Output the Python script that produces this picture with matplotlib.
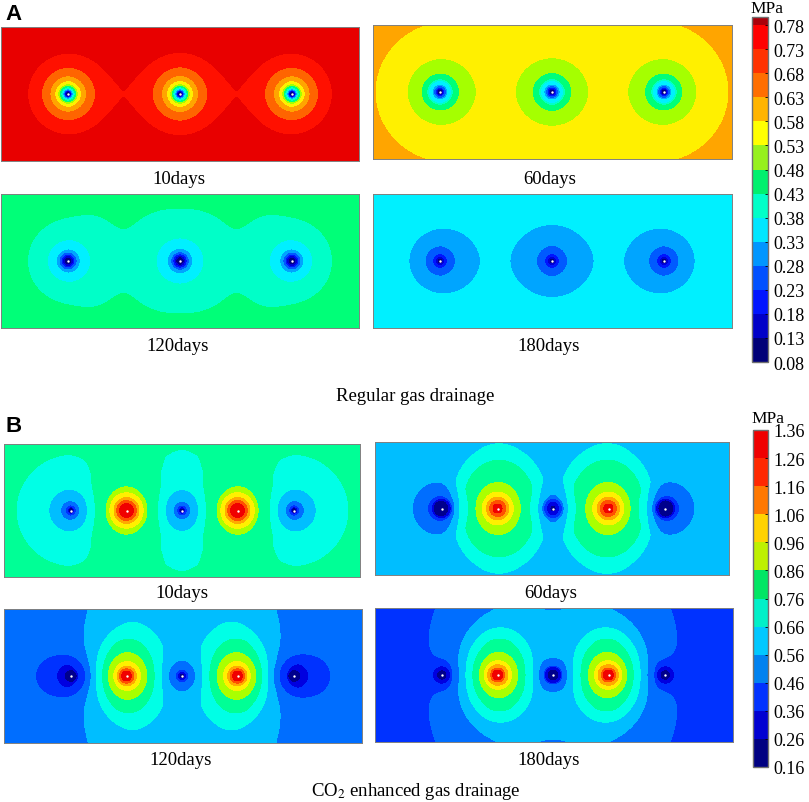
#Pressure contour panels for regular and CO2 enhanced gas drainage
import numpy as np
import matplotlib
matplotlib.use('Agg')
import matplotlib.pyplot as plt
from matplotlib.cm import ScalarMappable
from matplotlib.colors import BoundaryNorm, ListedColormap

plt.rcParams['font.family'] = ['Liberation Serif', 'DejaVu Serif']

days = ['10days', '60days', '120days', '180days']
group_a = 'Regular gas drainage'
group_b = 'CO$_{2}$ enhanced gas drainage'

#band limits of the two colour bars, MPa
levels_a = [0.08, 0.13, 0.18, 0.23, 0.28, 0.33, 0.38, 0.43, 0.48, 0.53, 0.58, 0.63, 0.68, 0.73, 0.78, 0.797]
levels_b = [0.16, 0.26, 0.36, 0.46, 0.56, 0.66, 0.76, 0.86, 0.96, 1.06, 1.16, 1.26, 1.36]

colors_a = ['#000082', '#0000d2', '#0014ff', '#005aff', '#00a5ff', '#00f0ff', '#00ffc8', '#00ff78',
            '#a5ff00', '#fff000', '#ffa500', '#ff6400', '#ff1000', '#e80000', '#aa000a']
bar_a = ['#000078', '#0000c8', '#0014ff', '#0050ff', '#0096ff', '#00e6ff', '#00ffc8', '#00f06e',
         '#96f01e', '#ffff00', '#ffb400', '#ff6e00', '#ff3200', '#ff0000', '#aa000a']
colors_b = ['#00008c', '#0000e0', '#0032ff', '#006eff', '#00beff', '#00ffe6', '#00ff96', '#aaff00',
            '#fff000', '#ffaa00', '#ff5000', '#f00000']
bar_b = ['#000082', '#0000d2', '#0032ff', '#0082f0', '#00c8ff', '#00f0c8', '#00e664', '#bef000',
         '#ffd200', '#ff7800', '#ff2800', '#f00000']

#well positions along each panel
wells_a = [67, 179, 291]
sinks_b = [67, 178, 290]
sources_b = [122.5, 233.5]

#far field pressure and the radial profile read round one well (radius, pressure drop or rise)
far_a = [0.76, 0.593, 0.47, 0.345]
r_a10 = [300, 120, 95, 70, 56, 42, 26, 17.7, 13, 10, 8.5, 7, 6, 5, 4.3, 3.7, 3.2, 2.6, 2]
d_a10 = [0, 0.002, 0.004, 0.009, 0.0143, 0.023, 0.08, 0.13, 0.18, 0.23, 0.28, 0.33, 0.38, 0.43, 0.48, 0.53, 0.58, 0.63, 0.68]
r_a60 = [300, 170, 130, 112, 87, 70, 67, 59, 34, 19.5, 13, 12, 8, 6.5, 5, 4, 2.5]
d_a60 = [0, 0.001, 0.002, 0.003, 0.0068, 0.0108, 0.0115, 0.0135, 0.058, 0.106, 0.155, 0.205, 0.255, 0.305, 0.355, 0.405, 0.475]
r_a120 = [300, 220, 170, 121, 95, 75, 63.5, 54, 43, 39, 21.7, 12, 9, 7, 5.5, 4, 2.5]
d_a120 = [0, 0, 0.002, 0.005, 0.01, 0.014, 0.0192, 0.03, 0.035, 0.038, 0.082, 0.132, 0.182, 0.232, 0.282, 0.332, 0.382]
r_a180 = [300, 182, 142, 117, 70, 42, 33, 30, 15, 7, 4.5, 3, 2]
d_a180 = [0, 0.0005, 0.001, 0.002, 0.005, 0.009, 0.0125, 0.014, 0.063, 0.115, 0.165, 0.215, 0.265]

far_b = [0.80, 0.62, 0.52, 0.40]
stretch_b = [1.12, 1.3, 1.3, 1.3]
sink_weights = [[1, 1, 1], [1.1, 0.9, 1.1], [1.25, 1, 1.25], [1, 1.7, 1]]
r_b10 = [300, 200, 120, 90, 67, 52, 34, 24, 16, 8, 5, 3.5, 2.5, 1.5]
d_b10 = [0, 0, 0.006, 0.012, 0.03, 0.04, 0.07, 0.125, 0.19, 0.27, 0.37, 0.47, 0.57, 0.64]
rs_b10 = [300, 110, 76, 60, 45, 31, 21, 16.3, 11, 9, 5, 2]
h_b10 = [0, 0, 0.002, 0.008, 0.03, 0.1, 0.135, 0.26, 0.38, 0.49, 0.6, 0.7]
r_b60 = [300, 112, 66, 31, 24, 14, 12, 10, 9, 6.5, 5, 3, 1.5]
d_b60 = [0, 0.01, 0.045, 0.06, 0.1, 0.17, 0.2, 0.29, 0.36, 0.42, 0.46, 0.52, 0.56]
rs_b60 = [300, 150, 110, 87, 70, 59, 51.5, 45, 36, 27, 19.7, 13.7, 10, 7, 3.5, 1]
h_b60 = [0, 0.003, 0.01, 0.02, 0.03, 0.045, 0.08, 0.14, 0.23, 0.27, 0.36, 0.465, 0.57, 0.67, 0.77, 0.87]
r_b120 = [300, 200, 116, 88, 69, 35, 23, 18, 13, 7.5, 6.5, 5, 3, 1.5]
d_b120 = [0, 0.005, 0.02, 0.03, 0.05, 0.09, 0.125, 0.165, 0.215, 0.25, 0.31, 0.38, 0.5, 0.58]
rs_b120 = [300, 158, 91, 76, 64, 50, 44, 35, 32.5, 24, 16.7, 11, 8.5, 6, 4, 1]
h_b120 = [0, 0.01, 0.06, 0.09, 0.115, 0.165, 0.19, 0.24, 0.28, 0.385, 0.5, 0.6, 0.7, 0.8, 0.9, 1.0]
r_b180 = [300, 200, 116, 70, 35, 23, 18, 13.7, 10, 9, 6, 3, 1.5]
d_b180 = [0, 0.005, 0.015, 0.03, 0.05, 0.07, 0.09, 0.12, 0.14, 0.22, 0.27, 0.42, 0.55]
rs_b180 = [300, 185, 149, 86, 76, 60, 47, 39, 33, 30.5, 21, 14, 10, 7, 5, 3, 1]
h_b180 = [0, 0.01, 0.015, 0.09, 0.115, 0.17, 0.2, 0.27, 0.33, 0.37, 0.49, 0.6, 0.72, 0.81, 0.91, 1.01, 1.11]

#panel frames in pixels: left, right, top, bottom
boxes_a = [(1, 359, 28, 162), (373, 732, 26, 160), (1, 359, 195, 329), (373, 732, 195, 329)]
boxes_b = [(4, 360, 445, 578), (375, 729, 443, 576), (4, 362, 610, 744), (375, 733, 609, 743)]
W, H = 809, 803


def px_axes(fig, left, right, top, bottom):
    return fig.add_axes([left / W, 1 - bottom / H, (right - left) / W, (bottom - top) / H])


def well_term(r, radii, values):
    #profile lookup in log radius, kinks between the read points rounded off
    grid = np.linspace(np.log(0.3), np.log(500), 800)
    table = np.interp(grid, np.log(radii[::-1]), values[::-1])
    n = int(0.16 / (grid[1] - grid[0])) | 1
    pad = np.pad(table, n // 2, mode='edge')
    table = np.convolve(pad, np.ones(n) / n, mode='valid')
    return np.interp(np.log(np.maximum(r, 0.3)), grid, table)


def draw_panel(fig, box, far, sinks, weights, r_s, d_s, sources, r_h, h, stretch, levels, colors):
    ax = px_axes(fig, *box)
    x = np.arange(0, box[1] - box[0] + 0.25, 0.25)
    y = np.arange(0, 134.25, 0.25)
    xx, yy = np.meshgrid(x, y)
    p = np.full(xx.shape, far, dtype=float)
    for s, w in zip(sinks, weights):
        p -= w * well_term(np.hypot(xx - s, yy - 67), r_s, d_s)
    for s in sources:
        r0 = np.hypot(xx - s, yy - 67)
        #source lobes get taller than wide away from the well
        k = 1 + (stretch - 1) * np.clip((r0 - 10) / 25, 0, 1)
        p += well_term(np.hypot(xx - s, (yy - 67) / k), r_h, h)
    p = np.clip(p, levels[0] + 1e-4, levels[-1] - 1e-4)
    ax.contourf(xx, yy, p, levels=levels, colors=colors)
    ax.scatter(list(sinks) + list(sources), [67] * (len(sinks) + len(sources)), s=3, c='white', linewidths=0, zorder=3)
    ax.set_xticks([])
    ax.set_yticks([])
    for sp in ax.spines.values():
        sp.set_linewidth(0.7)
        sp.set_color('#808080')
    return ax


def draw_bar(fig, box, levels, colors, ticks):
    cax = px_axes(fig, *box)
    sm = ScalarMappable(norm=BoundaryNorm(levels, len(colors)), cmap=ListedColormap(colors))
    cb = fig.colorbar(sm, cax=cax, ticks=ticks, spacing='proportional', format='%.2f')
    cb.ax.tick_params(labelsize=13, length=2, width=0.6, direction='in', pad=4)
    cb.outline.set_linewidth(1)
    cb.outline.set_edgecolor('#707070')
    cb.minorticks_off()


def label(fig, x, y, s, **kw):
    fig.text(x / W, 1 - y / H, s, ha='center', va='center', **kw)


def main():
    fig = plt.figure(figsize=(W / 100, H / 100), dpi=100)

    profiles_a = [(r_a10, d_a10), (r_a60, d_a60), (r_a120, d_a120), (r_a180, d_a180)]
    for i in range(4):
        draw_panel(fig, boxes_a[i], far_a[i], wells_a, [1, 1, 1], profiles_a[i][0], profiles_a[i][1],
                   [], [300, 1], [0, 0], 1, levels_a, colors_a)

    profiles_b = [(r_b10, d_b10, rs_b10, h_b10), (r_b60, d_b60, rs_b60, h_b60),
                  (r_b120, d_b120, rs_b120, h_b120), (r_b180, d_b180, rs_b180, h_b180)]
    for i in range(4):
        r_s, d_s, r_h, h = profiles_b[i]
        draw_panel(fig, boxes_b[i], far_b[i], sinks_b, sink_weights[i], r_s, d_s, sources_b, r_h, h,
                   stretch_b[i], levels_b, colors_b)

    draw_bar(fig, (752, 768, 18, 363), levels_a, bar_a, levels_a[:-1])
    draw_bar(fig, (753, 768, 431, 768), levels_b, bar_b, levels_b)

    text_xy = [(179, 180), (550, 180), (178, 347), (549, 347), (182, 594), (551, 594), (181, 761), (549, 761)]
    for k, (x, y) in enumerate(text_xy):
        label(fig, x, y, days[k % 4], fontsize=13.5)
    label(fig, 415, 397, group_a, fontsize=13.5)
    label(fig, 416, 792, group_b, fontsize=13.5, math_fontfamily='stix')
    label(fig, 767, 9, 'MPa', fontsize=12.5)
    label(fig, 768, 419, 'MPa', fontsize=12.5)
    label(fig, 14, 15, 'A', fontsize=16, family='Liberation Sans', fontweight='bold')
    label(fig, 14, 427, 'B', fontsize=16, family='Liberation Sans', fontweight='bold')

    fig.savefig('out.png', dpi=100)


if __name__ == "__main__":
    main()
